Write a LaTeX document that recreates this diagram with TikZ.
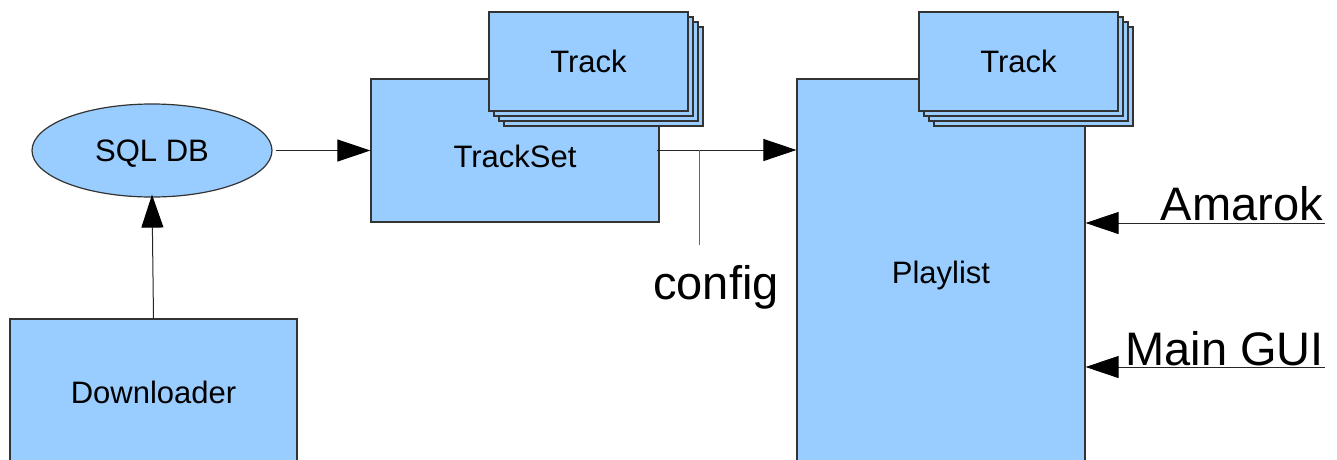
\documentclass[tikz,border=0pt]{standalone}
\usepackage{fontspec}
\setmainfont{Liberation Sans}
\usetikzlibrary{arrows.meta,shapes.geometric}
\definecolor{boxblue}{HTML}{99CCFF}
\definecolor{edge}{HTML}{333333}
\tikzset{
  box/.style={draw=edge, fill=boxblue, line width=1.2pt, rectangle, inner sep=0pt, font=\fontsize{31}{36}\selectfont, text depth=-2pt},
  dbshape/.style={draw=edge, fill=boxblue, line width=1.2pt, ellipse, inner sep=0pt, minimum width=240pt, minimum height=93pt, font=\fontsize{31}{36}\selectfont, text depth=-2pt},
  arr/.style={draw=black!85, line width=1pt, -{Triangle[length=33pt,width=22pt,color=black]}},
  biglabel/.style={inner sep=0pt, font=\fontsize{47}{54}\selectfont},
}
\begin{document}
\begin{tikzpicture}[x=1pt,y=-1pt]
\useasboundingbox (0,0) rectangle (1337,459);
\clip (0,0) rectangle (1337,459);
\fill[white] (0,0) rectangle (1337,459);

% Main boxes
\node[box, minimum width=287pt, minimum height=146pt] (down) at (153.5,392) {Downloader};
\node[dbshape] (sql) at (152,150.5) {SQL DB};
\node[box, minimum width=288pt, minimum height=143pt] (trackset) at (515,150.5) {};
\node[font=\fontsize{31}{36}\selectfont, inner sep=0pt] (tslabel) at (515,156) {TrackSet};
\node[box, minimum width=288pt, minimum height=386pt] (playlist) at (941,272) {Playlist};

% Track stack 1
\node[box, minimum width=199pt, minimum height=99pt] (t1d) at (603.5,76.5) {};
\node[box, minimum width=199pt, minimum height=99pt] (t1c) at (598.5,71.5) {};
\node[box, minimum width=199pt, minimum height=99pt] (t1b) at (593.5,66.5) {};
\node[box, minimum width=199pt, minimum height=99pt] (t1a) at (588.5,61.5) {Track};

% Track stack 2
\node[box, minimum width=199pt, minimum height=99pt] (t2d) at (1033.5,76.5) {};
\node[box, minimum width=199pt, minimum height=99pt] (t2c) at (1028.5,71.5) {};
\node[box, minimum width=199pt, minimum height=99pt] (t2b) at (1023.5,66.5) {};
\node[box, minimum width=199pt, minimum height=99pt] (t2a) at (1018.5,61.5) {Track};

% Connectors
\draw[arr, shorten <=3pt] (sql.east) -- (trackset.west |- sql.east);
\draw[arr] (down.north) -- ([yshift=3pt]sql.south);
\draw[arr] ([xshift=-3pt]trackset.east |- 0,150) -- (playlist.west |- 0,150);

\coordinate (cfgtop) at (699,150);
\coordinate (cfgbot) at (699,245);
\draw[draw=black!60, line width=1pt] (cfgtop) -- (cfgbot);
\node[biglabel] (config) at (716,287) {config};

\coordinate (amr) at (1325,223);
\draw[arr] (amr) -- (playlist.east |- amr);
\node[biglabel, anchor=base east] (amarok) at (1323,220) {Amarok};

\coordinate (gui) at (1325,367);
\draw[arr] (gui) -- (playlist.east |- gui);
\node[biglabel, anchor=base east] (maingui) at (1324,365) {Main GUI};
\end{tikzpicture}
\end{document}
